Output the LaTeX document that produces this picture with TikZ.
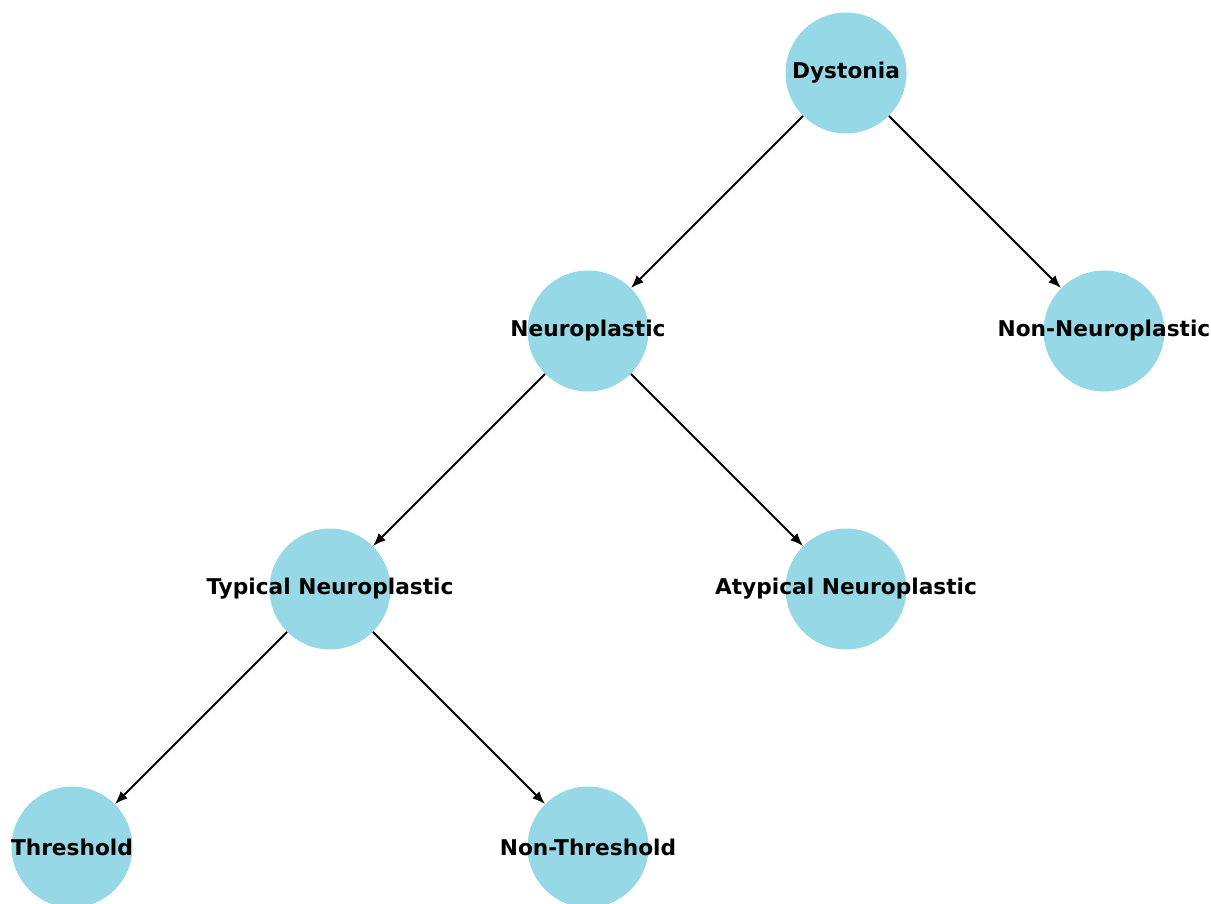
\documentclass[tikz,border=0pt]{standalone}
\usepackage{fontspec}
\setmainfont{DejaVu Sans}
\usetikzlibrary{arrows.meta}
\definecolor{nodeblue}{RGB}{151,216,230}

\tikzset{
	disease/.style={circle, fill=nodeblue, minimum size=121pt, inner sep=0pt},
	branch/.style={-{Latex[length=13pt, width=10pt]}, line width=1.8pt, black}
}

\begin{document}
\begin{tikzpicture}[x=1pt, y=-1pt, font=\fontsize{21.7}{25}\selectfont\bfseries]
			\useasboundingbox (0, 0) rectangle (1211, 904);

			% level 0
			\node[disease, label={center:Dystonia}] (dyst) at (846, 73) {};

			% level 1
			\node[disease, label={center:Neuroplastic}] (neuro) at (588, 331) {};
			\node[disease, label={center:Non-Neuroplastic}] (nonneuro) at (1104, 331) {};

			% level 2
			\node[disease, label={center:Typical Neuroplastic}] (typ) at (330, 589) {};
			\node[disease, label={center:Atypical Neuroplastic}] (atyp) at (846, 589) {};

			% level 3
			\node[disease, label={center:Threshold}] (thr) at (72, 847) {};
			\node[disease, label={center:Non-Threshold}] (nonthr) at (588, 847) {};

			% edges
			\draw[branch]
				(dyst) -- (neuro);
			\draw[branch]
				(dyst) -- (nonneuro);
			\draw[branch]
				(neuro) -- (typ);
			\draw[branch]
				(neuro) -- (atyp);
			\draw[branch]
				(typ) -- (thr);
			\draw[branch]
				(typ) -- (nonthr);

		\end{tikzpicture}
\end{document}
